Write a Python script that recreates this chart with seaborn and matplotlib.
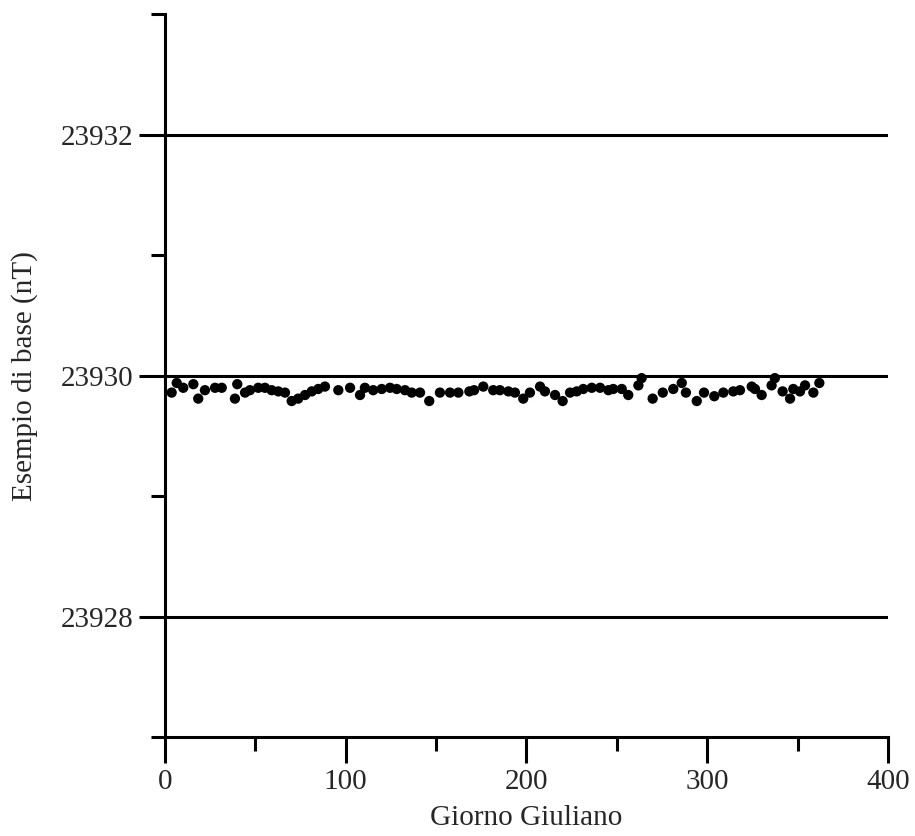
import numpy as np
import pandas as pd
import matplotlib
matplotlib.use("Agg")
import matplotlib.pyplot as plt
import seaborn as sns
from matplotlib.ticker import MultipleLocator

# giorno giuliano (x) e valore di base (nT)
giorni = [3.7, 6.5, 10.1, 15.7, 18.4, 22.1, 27.7, 31.4, 38.7, 40.0,
          44.3, 47.0, 51.6, 55.3, 59.0, 62.7, 66.4, 70.1, 73.7, 77.5,
          81.2, 84.8, 88.5, 95.9, 102.4, 107.9, 110.6, 115.2, 119.9, 124.5,
          128.2, 132.8, 136.5, 141.1, 146.2, 152.1, 157.7, 162.3, 168.4, 171.0,
          176.1, 181.6, 185.3, 190.0, 193.6, 198.2, 201.9, 207.5, 210.2, 215.8,
          220.0, 224.1, 227.8, 231.4, 236.1, 240.7, 245.3, 248.0, 252.7, 256.3,
          261.9, 263.7, 269.8, 275.4, 281.2, 285.9, 288.2, 294.2, 298.2, 303.9,
          308.9, 314.4, 318.1, 324.6, 326.4, 330.1, 335.6, 337.4, 341.7, 345.8,
          347.6, 351.3, 354.1, 358.7, 362.0]
valori = [23929.86, 23929.94, 23929.90, 23929.93, 23929.81, 23929.88, 23929.90, 23929.90, 23929.81, 23929.93,
          23929.86, 23929.88, 23929.90, 23929.90, 23929.88, 23929.87, 23929.86, 23929.79, 23929.81, 23929.84,
          23929.87, 23929.89, 23929.91, 23929.88, 23929.90, 23929.84, 23929.90, 23929.88, 23929.89, 23929.90,
          23929.89, 23929.88, 23929.86, 23929.86, 23929.79, 23929.86, 23929.86, 23929.86, 23929.87, 23929.88,
          23929.91, 23929.88, 23929.88, 23929.87, 23929.86, 23929.81, 23929.86, 23929.91, 23929.87, 23929.84,
          23929.79, 23929.86, 23929.87, 23929.89, 23929.90, 23929.90, 23929.88, 23929.89, 23929.89, 23929.84,
          23929.92, 23929.98, 23929.81, 23929.86, 23929.89, 23929.94, 23929.86, 23929.79, 23929.86, 23929.83,
          23929.86, 23929.87, 23929.88, 23929.91, 23929.89, 23929.84, 23929.92, 23929.98, 23929.87, 23929.81,
          23929.89, 23929.87, 23929.92, 23929.86, 23929.94]

df = pd.DataFrame({'giorno': giorni, 'base': valori})

sns.set_theme(style="white")
plt.rcParams['font.family'] = ['Liberation Serif', 'DejaVu Serif']

fig = plt.figure(figsize=(9.15, 8.36), dpi=100)
ax = fig.add_axes([0.1803, 0.1184, 0.7902, 0.8643])

# linee orizzontali ai tick principali
for yv in [23928, 23930, 23932]:
    ax.axhline(yv, color='black', lw=2.2, zorder=1)

sns.scatterplot(data=df, x='giorno', y='base', color='black', s=55,
                edgecolor='none', ax=ax, zorder=3)

ax.set_xlim(0, 400)
ax.set_ylim(23927, 23933)
ax.xaxis.set_major_locator(MultipleLocator(100))
ax.xaxis.set_minor_locator(MultipleLocator(50))
ax.yaxis.set_major_locator(MultipleLocator(2))
ax.yaxis.set_minor_locator(MultipleLocator(1))
ax.yaxis.set_major_formatter(matplotlib.ticker.FormatStrFormatter('%d'))

for side in ['top', 'right']:
    ax.spines[side].set_visible(False)
for side in ['left', 'bottom']:
    ax.spines[side].set_linewidth(2.2)
    ax.spines[side].set_color('black')

ax.tick_params(axis='both', which='major', direction='out', length=19,
               width=2.2, color='black', labelsize=21, pad=4)
ax.tick_params(axis='both', which='minor', direction='out', length=10,
               width=2.2, color='black')
ax.tick_params(axis='x', which='both', bottom=True)
ax.tick_params(axis='y', which='both', left=True)

ax.set_xlabel('Giorno Giuliano', fontsize=21, labelpad=7)
ax.set_ylabel('Esempio di base (nT)', fontsize=21, labelpad=16)
ax.grid(False)

fig.savefig('out.png', dpi=100)
